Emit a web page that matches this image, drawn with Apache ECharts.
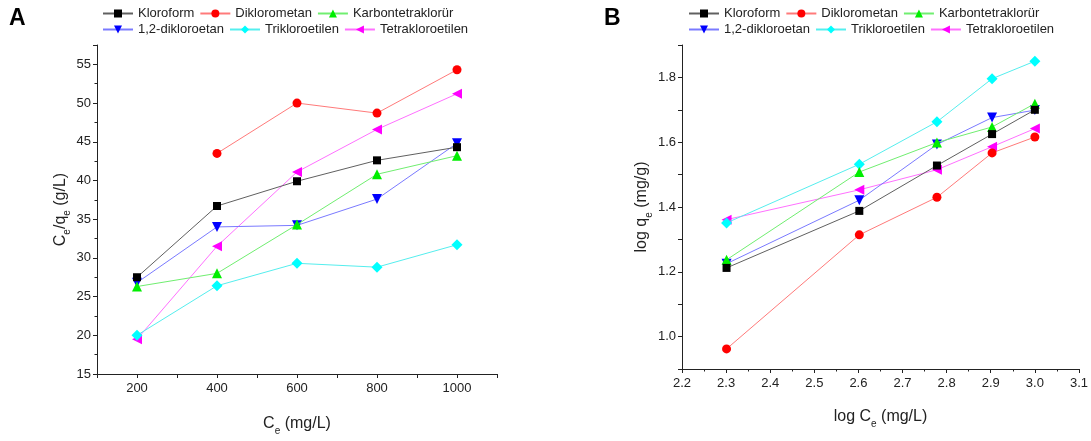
<!DOCTYPE html>
<html>
<head>
<meta charset="utf-8">
<script src="https://cdn.jsdelivr.net/npm/echarts@6/dist/echarts.min.js"></script>
<style>
html,body{margin:0;padding:0;background:#fff;}
#chart{width:1091px;height:441px;}
</style>
</head>
<body>
<div id="chart"></div>
<script>
// ---- Data ----
const seriesNames = ['Kloroform', 'Diklorometan', 'Karbontetraklorür', '1,2-dikloroetan', 'Trikloroetilen', 'Tetrakloroetilen'];

// Panel A: Ce (mg/L) vs Ce/qe (g/L)
const ceValues = [200, 400, 600, 800, 1000];
const ceqeKloroform       = [27.5, 36.7, 39.9, 42.6, 44.3];
const ceqeDiklorometan    = [null, 43.5, 50.0, 48.7, 54.3];
const ceqeKarbontetra     = [26.3, 28.0, 34.3, 40.8, 43.2];
const ceqeDikloroetan     = [26.8, 34.0, 34.2, 37.6, 44.8];
const ceqeTrikloroetilen  = [20.0, 26.4, 29.3, 28.8, 31.7];
const ceqeTetrakloroetilen= [19.5, 31.5, 41.1, 46.6, 51.2];

// Panel B: log Ce vs log qe
const logCeValues = [2.301, 2.602, 2.778, 2.903, 3.000];
const logqeKloroform       = [1.212, 1.388, 1.528, 1.625, 1.700];
const logqeDiklorometan    = [0.962, 1.314, 1.430, 1.567, 1.616];
const logqeKarbontetra     = [1.237, 1.508, 1.599, 1.647, 1.719];
const logqeDikloroetan     = [1.225, 1.421, 1.593, 1.676, 1.699];
const logqeTrikloroetilen  = [1.351, 1.532, 1.663, 1.796, 1.850];
const logqeTetrakloroetilen= [1.361, 1.453, 1.515, 1.586, 1.642];

// ---- Styles ----
const FONT = '"Liberation Sans", Arial, sans-serif';
const styles = [
  {symbol: 'rect',     size: 8,  rotate: 0,   color: '#000000', line: '#606060'},
  {symbol: 'circle',   size: 9,  rotate: 0,   color: '#ff0000', line: '#ff7a7a'},
  {symbol: 'triangle', size: 10, rotate: 0,   color: '#00ee00', line: '#70ee70'},
  {symbol: 'triangle', size: 10, rotate: 180, color: '#0000ff', line: '#7a7aff'},
  {symbol: 'diamond',  size: 11, rotate: 0,   color: '#00ffff', line: '#55eeee'},
  {symbol: 'triangle', size: 10, rotate: 90,  color: '#ff00ff', line: '#ff70ff'}
];

const dataA = [ceqeKloroform, ceqeDiklorometan, ceqeKarbontetra, ceqeDikloroetan, ceqeTrikloroetilen, ceqeTetrakloroetilen];
const dataB = [logqeKloroform, logqeDiklorometan, logqeKarbontetra, logqeDikloroetan, logqeTrikloroetilen, logqeTetrakloroetilen];

function makeSeries(xs, ys, idx, axisIdx) {
  const s = styles[idx];
  const pts = [];
  xs.forEach((x, i) => { if (ys[i] !== null) pts.push([x, ys[i]]); });
  return {
    type: 'line',
    name: seriesNames[idx],
    xAxisIndex: axisIdx, yAxisIndex: axisIdx,
    data: pts,
    symbol: s.symbol, symbolSize: s.size, symbolRotate: s.rotate,
    showAllSymbol: true,
    itemStyle: {color: s.color, borderWidth: 0},
    lineStyle: {color: s.line, width: 1},
    emphasis: {disabled: true},
    animation: false,
    z: 10 - idx
  };
}

const series = [];
for (let i = 0; i < 6; i++) series.push(makeSeries(ceValues, dataA[i], i, 0));
for (let i = 0; i < 6; i++) series.push(makeSeries(logCeValues, dataB[i], i, 1));

const axisCommon = {
  axisLine: {show: true, onZero: false, lineStyle: {color: '#222', width: 1}},
  axisTick: {show: true, inside: false, length: 4, lineStyle: {color: '#222'}},
  minorTick: {show: true, splitNumber: 2, length: 2.5, lineStyle: {color: '#222'}},
  splitLine: {show: false},
  minorSplitLine: {show: false},
  axisLabel: {color: '#222', fontSize: 13, fontFamily: FONT},
  nameTextStyle: {color: '#222', fontSize: 16, fontFamily: FONT}
};
const subRich = {
  n: {fontSize: 16, fontFamily: FONT, color: '#222', lineHeight: 24, verticalAlign: 'middle'},
  s: {fontSize: 10, fontFamily: FONT, color: '#222', lineHeight: 24, verticalAlign: 'bottom'}
};

function legendRow(names, left, top) {
  return {
    data: names, left: left, top: top, orient: 'horizontal',
    padding: 0, itemWidth: 30, itemHeight: 10, itemGap: 5,
    textStyle: {color: '#222', fontSize: 13, fontFamily: FONT},
    selectedMode: false
  };
}

const option = {
  backgroundColor: '#ffffff',
  animation: false,
  title: [
    {text: 'A', left: 9, top: 7, padding: 0, textStyle: {fontSize: 23, fontWeight: 'bold', color: '#000', fontFamily: FONT}},
    {text: 'B', left: 604, top: 7, padding: 0, textStyle: {fontSize: 23, fontWeight: 'bold', color: '#000', fontFamily: FONT}}
  ],
  legend: [
    legendRow(seriesNames.slice(0, 3), 102, 7),
    legendRow(seriesNames.slice(3, 6), 102, 23),
    legendRow(seriesNames.slice(0, 3), 688, 7),
    legendRow(seriesNames.slice(3, 6), 688, 23)
  ],
  grid: [
    {left: 97, top: 45, width: 400, height: 335, containLabel: false},
    {left: 682, top: 45, width: 400, height: 324, containLabel: false}
  ],
  xAxis: [
    Object.assign({}, axisCommon, {
      type: 'value', gridIndex: 0, min: 100, max: 1100, interval: 100,
      minorTick: {show: false},
      axisLabel: Object.assign({}, axisCommon.axisLabel, {margin: 8,
        formatter: v => (Math.round(v) % 200 === 0 && v <= 1000) ? String(Math.round(v)) : ''}),
      name: '{n|C}{s|e}{n| (mg/L)}', nameLocation: 'middle', nameGap: 38,
      nameTextStyle: Object.assign({}, axisCommon.nameTextStyle, {rich: subRich})
    }),
    Object.assign({}, axisCommon, {
      type: 'value', gridIndex: 1, min: 2.2, max: 3.1, interval: 0.1,
      axisLabel: Object.assign({}, axisCommon.axisLabel, {margin: 8,
        formatter: v => v.toFixed(1)}),
      name: '{n|log C}{s|e}{n| (mg/L)}', nameLocation: 'middle', nameGap: 36,
      nameTextStyle: Object.assign({}, axisCommon.nameTextStyle, {rich: subRich})
    })
  ],
  yAxis: [
    Object.assign({}, axisCommon, {
      type: 'value', gridIndex: 0, min: 15, max: 57.5, interval: 5,
      axisLabel: Object.assign({}, axisCommon.axisLabel, {margin: 6,
        formatter: v => (Math.abs(v - Math.round(v)) < 1e-6 && Math.round(v) % 5 === 0 && v <= 55) ? String(Math.round(v)) : ''}),
      name: '{n|C}{s|e}{n|/q}{s|e}{n| (g/L)}', nameLocation: 'middle', nameGap: 20,
      nameTextStyle: Object.assign({}, axisCommon.nameTextStyle, {rich: subRich})
    }),
    Object.assign({}, axisCommon, {
      type: 'value', gridIndex: 1, min: 0.9, max: 1.9, interval: 0.1,
      minorTick: {show: false},
      axisLabel: Object.assign({}, axisCommon.axisLabel, {margin: 6,
        formatter: v => { const k = Math.round(v * 10); return (k % 2 === 0) ? (k / 10).toFixed(1) : ''; }}),
      name: '{n|log q}{s|e}{n| (mg/g)}', nameLocation: 'middle', nameGap: 27,
      nameTextStyle: Object.assign({}, axisCommon.nameTextStyle, {rich: subRich})
    })
  ],
  series: series
};

const chart = echarts.init(document.getElementById('chart'), null, {renderer: 'canvas'});
chart.setOption(option);
</script>
</body>
</html>
